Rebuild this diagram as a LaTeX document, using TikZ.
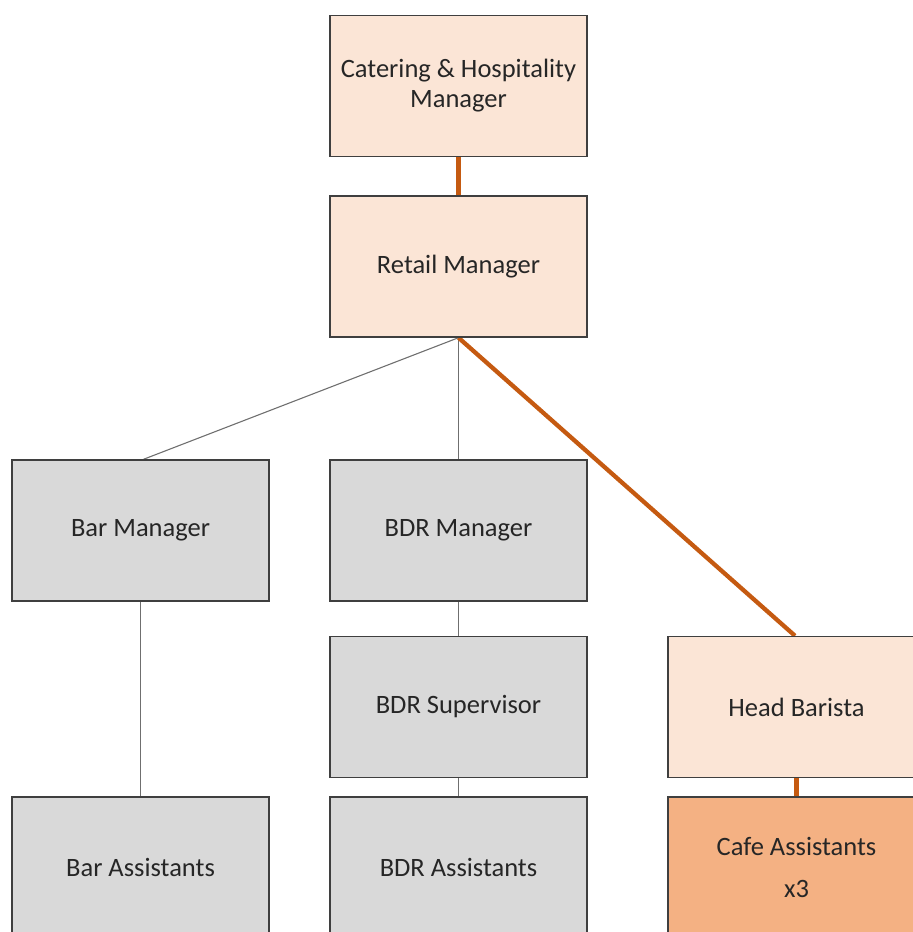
\documentclass[tikz,border=0pt]{standalone}
\usepackage{fontspec}
\setmainfont{Carlito}
\usetikzlibrary{backgrounds}
\definecolor{peach}{HTML}{FBE5D6}
\definecolor{greybox}{HTML}{D9D9D9}
\definecolor{cafe}{HTML}{F4B183}
\definecolor{orgline}{HTML}{C55A11}
\definecolor{bordercol}{HTML}{3F3F3F}
\definecolor{thinline}{HTML}{6F6F6F}
\definecolor{txt}{HTML}{262626}
\tikzset{
  box/.style={draw=bordercol, line width=1.4pt, minimum width=257pt, minimum height=141pt,
    inner sep=0pt, align=center, text=txt, font=\fontsize{26.5}{30}\selectfont},
  peachbox/.style={box, fill=peach},
  greyboxst/.style={box, fill=greybox},
  cafebox/.style={box, fill=cafe, font=\fontsize{26.5}{42}\selectfont},
  thick orange/.style={draw=orgline, line width=4.3pt},
  thin grey/.style={draw=thinline, line width=1.1pt}
}
\begin{document}
\begin{tikzpicture}[x=1pt,y=-1pt]
\useasboundingbox (0,0) rectangle (913,932);
\clip (0,0) rectangle (913,932);
\node[peachbox] (cat) at (458.5,86) {Catering \& Hospitality\\Manager};
\node[peachbox] (ret) at (458.5,266.5) {Retail Manager};
\node[greyboxst] (barm) at (140.5,530.5) {Bar Manager};
\node[greyboxst] (bdrm) at (458.5,530.5) {BDR Manager};
\node[greyboxst] (bdrs) at (458.5,707) {BDR Supervisor};
\node[peachbox] (head) at (796.5,707) {Head Barista};
\node[greyboxst] (bara) at (140.5,867.5) {Bar Assistants};
\node[greyboxst] (bdra) at (458.5,867.5) {BDR Assistants};
\node[cafebox] (cafe) at (796.5,867.5) {Cafe Assistants\\x3};
\begin{scope}[on background layer]
\draw[thick orange] (cat.south) -- (ret.north);
\draw[thin grey] (ret.south) -- ([xshift=3pt]barm.north);
\draw[thin grey] (ret.south) -- (bdrm.north);
\draw[thick orange] (ret.south) -- ([xshift=-1.5pt]head.north);
\draw[thin grey] (barm.south) -- (bara.north);
\draw[thin grey] (bdrm.south) -- (bdrs.north);
\draw[thin grey] (bdrs.south) -- (bdra.north);
\draw[thick orange] (head.south) -- (cafe.north);
\end{scope}
\end{tikzpicture}
\end{document}
